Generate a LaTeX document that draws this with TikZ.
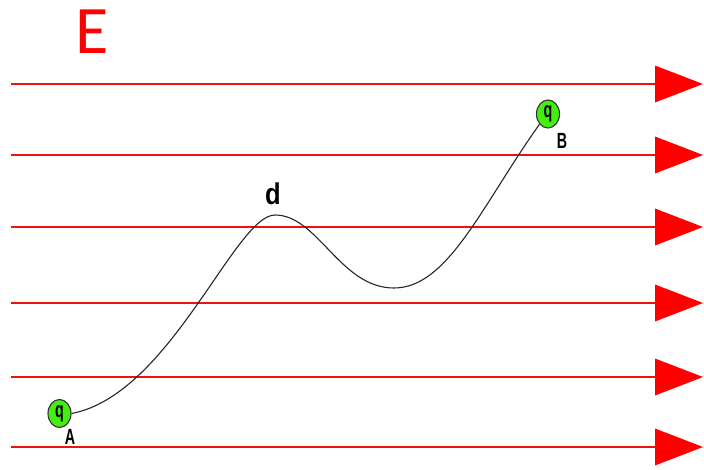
\documentclass[tikz,border=0pt]{standalone}
\usepackage{fontspec}
\usetikzlibrary{shapes.geometric}
\setmainfont{Liberation Sans}
\newfontfamily\efont{Carlito}
\definecolor{fieldred}{HTML}{F01010}
\definecolor{chargegreen}{HTML}{44EE11}
\begin{document}
\begin{tikzpicture}[x=1pt,y=-1pt,
  fieldline/.style={draw=fieldred,line width=2.8pt},
  fieldtip/.style={fill=red,draw=none},
  charge/.style={ellipse,draw=black!80,line width=1.1pt,fill=chargegreen,minimum width=23pt,minimum height=28pt,inner sep=0pt,font=\fontsize{22}{22}\selectfont\bfseries},
  sublabel/.style={font=\fontsize{22}{22}\selectfont\bfseries,inner sep=0pt},
  pathline/.style={draw=black!85,line width=1.1pt}]
\useasboundingbox (0,0) rectangle (704,469);
\fill[white] (0,0) rectangle (704,469);
\foreach \yy/\nm in {84/l1,155/l2,227/l3,303/l4,377/l5,447/l6}{
  \coordinate (\nm s) at (11,\yy);
  \coordinate (\nm e) at (656,\yy);
  \draw[fieldline] (\nm s) -- (\nm e);
  \fill[fieldtip] (655,\yy-18.5) -- (703,\yy) -- (655,\yy+18.5) -- cycle;
}
\node[text=red,font=\efont\fontsize{68}{68}\selectfont,inner sep=0pt] (E) at (92,32) {E};
\node[charge] (qA) at (59.5,413.5) {\scalebox{0.65}[1]{q}};
\node[sublabel] (A) at (70,437) {\scalebox{0.65}[1]{A}};
\node[charge] (qB) at (548,114) {\scalebox{0.65}[1]{q}};
\node[sublabel] (B) at (562,141) {\scalebox{0.65}[1]{B}};
\node[font=\fontsize{30}{30}\selectfont\bfseries,inner sep=0pt] (d) at (273,194) {\scalebox{0.85}[1]{d}};
\coordinate (peak) at (275,215);
\coordinate (valley) at (394,288);
\draw[pathline] (qA.east) .. controls (170,395) and (235,215) .. (peak)
  .. controls (318,215) and (340,288) .. (valley)
  .. controls (448,288) and (482,205) .. (qB.south west);
\end{tikzpicture}
\end{document}
